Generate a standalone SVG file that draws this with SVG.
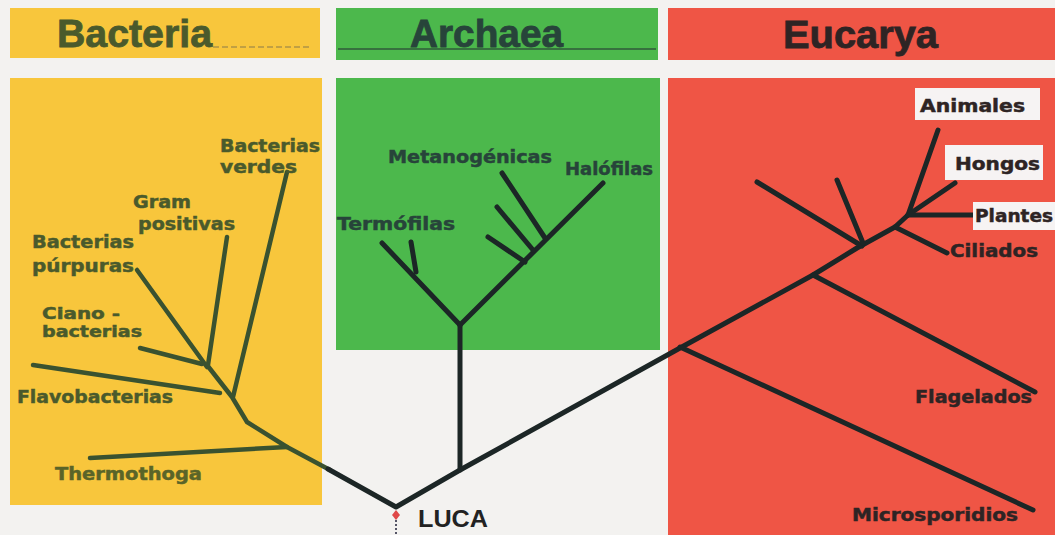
<svg xmlns="http://www.w3.org/2000/svg" width="1055" height="535" viewBox="0 0 1055 535">
<style>
.title{font-family:"Liberation Sans",Arial,sans-serif;font-weight:bold;font-size:38px;stroke-width:0.8}
.lb{font-family:"DejaVu Sans","Liberation Sans",sans-serif;font-weight:bold;font-size:18px;stroke-width:0.5}
.sm{font-size:16px}
.bt{fill:#4a5a2c;stroke:#4a5a2c}
.at{fill:#27443a;stroke:#27443a}
.et{fill:#2e2424;stroke:#2e2424}
.bl{stroke:#3a5230;stroke-width:4.5;fill:none;stroke-linecap:round;stroke-linejoin:round}
.dl{stroke:#1c2626;stroke-width:5;fill:none;stroke-linecap:round;stroke-linejoin:round}
.box{fill:#f6f3f3}
</style>
<rect x="0" y="0" width="1055" height="535" fill="#f3f2f0"/>
<g id="bacteria">
<rect x="10" y="8" width="310" height="50" fill="#f8c63c"/>
<rect x="10" y="78" width="312" height="427" fill="#f8c63c"/>
<line x1="213" y1="47" x2="312" y2="47" stroke="#8a7a4a" stroke-width="1" stroke-dasharray="6 3"/>
<text class="title bt" x="57" y="47" textLength="155" lengthAdjust="spacingAndGlyphs">Bacteria</text>
</g>
<g id="archaea">
<rect x="336" y="8" width="322" height="52" fill="#4cb84c"/>
<rect x="336" y="78" width="324" height="272" fill="#4cb84c"/>
<line x1="338" y1="49" x2="656" y2="49" stroke="#2f5a3a" stroke-width="1.5"/>
<text class="title at" x="410" y="47" textLength="153" lengthAdjust="spacingAndGlyphs">Archaea</text>
</g>
<g id="eucarya">
<rect x="668" y="8" width="387" height="52" fill="#ef5545"/>
<rect x="668" y="78" width="387" height="457" fill="#ef5545"/>
<text class="title et" x="783" y="48" textLength="155" lengthAdjust="spacingAndGlyphs">Eucarya</text>
</g>
<g id="connectors">
<polyline class="bl" points="330,470 287,447 247,422 232,397 207,365"/>
<line class="bl" x1="287" y1="447" x2="90" y2="458"/>
<line class="bl" x1="233" y1="397" x2="287" y2="172"/>
<line class="bl" x1="220" y1="393" x2="33" y2="365"/>
<line class="bl" x1="202" y1="364" x2="140" y2="348"/>
<line class="bl" x1="207" y1="367" x2="137" y2="270"/>
<line class="bl" x1="208" y1="365" x2="227" y2="237"/>
<polyline class="dl" points="328,469 396,507 460,470 680,348 813,275 857,248 895,227 908,215"/>
<line class="dl" x1="460" y1="470" x2="460" y2="325"/>
<line class="dl" x1="460" y1="325" x2="382" y2="243"/>
<line class="dl" x1="416" y1="272" x2="411" y2="242"/>
<line class="dl" x1="460" y1="325" x2="603" y2="183"/>
<line class="dl" x1="525" y1="262" x2="488" y2="237"/>
<line class="dl" x1="533" y1="250" x2="497" y2="207"/>
<line class="dl" x1="545" y1="238" x2="502" y2="173"/>
<line class="dl" x1="680" y1="347" x2="1033" y2="510"/>
<line class="dl" x1="813" y1="275" x2="1035" y2="392"/>
<line class="dl" x1="862" y1="246" x2="757" y2="182"/>
<line class="dl" x1="863" y1="243" x2="837" y2="180"/>
<line class="dl" x1="895" y1="227" x2="947" y2="253"/>
<line class="dl" x1="908" y1="215" x2="938" y2="130"/>
<line class="dl" x1="908" y1="215" x2="955" y2="183"/>
<line class="dl" x1="908" y1="215" x2="975" y2="215"/>
<line x1="396" y1="520" x2="396" y2="535" stroke="#556" stroke-width="2" stroke-dasharray="2 2"/>
</g>
<g id="b-verdes"><text class="lb bt" x="220" y="152" textLength="100" lengthAdjust="spacingAndGlyphs">Bacterias</text><text class="lb bt" x="220" y="173" textLength="77" lengthAdjust="spacingAndGlyphs">verdes</text></g>
<g id="b-gram"><text class="lb bt" x="133" y="208" textLength="58" lengthAdjust="spacingAndGlyphs">Gram</text><text class="lb bt" x="138" y="230" textLength="97" lengthAdjust="spacingAndGlyphs">positivas</text></g>
<g id="b-purpuras"><text class="lb bt" x="32" y="248" textLength="102" lengthAdjust="spacingAndGlyphs">Bacterias</text><text class="lb bt" x="32" y="272" textLength="102" lengthAdjust="spacingAndGlyphs">púrpuras</text></g>
<g id="b-ciano"><text class="lb sm bt" x="42" y="319" textLength="78" lengthAdjust="spacingAndGlyphs">Ciano -</text><text class="lb sm bt" x="42" y="337" textLength="100" lengthAdjust="spacingAndGlyphs">bacterias</text></g>
<g id="b-flavo"><text class="lb bt" x="17" y="403" textLength="156" lengthAdjust="spacingAndGlyphs">Flavobacterias</text></g>
<g id="b-thermo"><text class="lb" fill="#5a6428" stroke="#5a6428" x="55" y="480" textLength="147" lengthAdjust="spacingAndGlyphs">Thermothoga</text></g>
<g id="a-metano"><text class="lb at" x="388" y="163" textLength="164" lengthAdjust="spacingAndGlyphs">Metanogénicas</text></g>
<g id="a-halo"><text class="lb at" x="565" y="175" textLength="88" lengthAdjust="spacingAndGlyphs">Halófilas</text></g>
<g id="a-termo"><text class="lb at" x="337" y="230" textLength="118" lengthAdjust="spacingAndGlyphs">Termófilas</text></g>
<g id="e-animales"><rect class="box" x="915" y="88" width="125" height="32"/><text class="lb et" x="920" y="112" textLength="105" lengthAdjust="spacingAndGlyphs">Animales</text></g>
<g id="e-hongos"><rect class="box" x="945" y="145" width="98" height="35"/><text class="lb et" x="955" y="170" textLength="85" lengthAdjust="spacingAndGlyphs">Hongos</text></g>
<g id="e-plantes"><rect class="box" x="973" y="202" width="82" height="28"/><text class="lb et" x="975" y="222" textLength="78" lengthAdjust="spacingAndGlyphs">Plantes</text></g>
<g id="e-ciliados"><text class="lb et" x="950" y="257" textLength="88" lengthAdjust="spacingAndGlyphs">Ciliados</text></g>
<g id="e-flagelados"><text class="lb et" x="915" y="403" textLength="117" lengthAdjust="spacingAndGlyphs">Flagelados</text></g>
<g id="e-micro"><text class="lb et" x="852" y="521" textLength="166" lengthAdjust="spacingAndGlyphs">Microsporidios</text></g>
<g id="luca">
<path d="M396 510 L400 515 L396 520 L392 515 Z" fill="#e04848"/>
<text x="418" y="527" font-family="'Liberation Sans',Arial,sans-serif" font-weight="bold" font-size="24" fill="#222" textLength="70" lengthAdjust="spacingAndGlyphs">LUCA</text>
</g>
</svg>
